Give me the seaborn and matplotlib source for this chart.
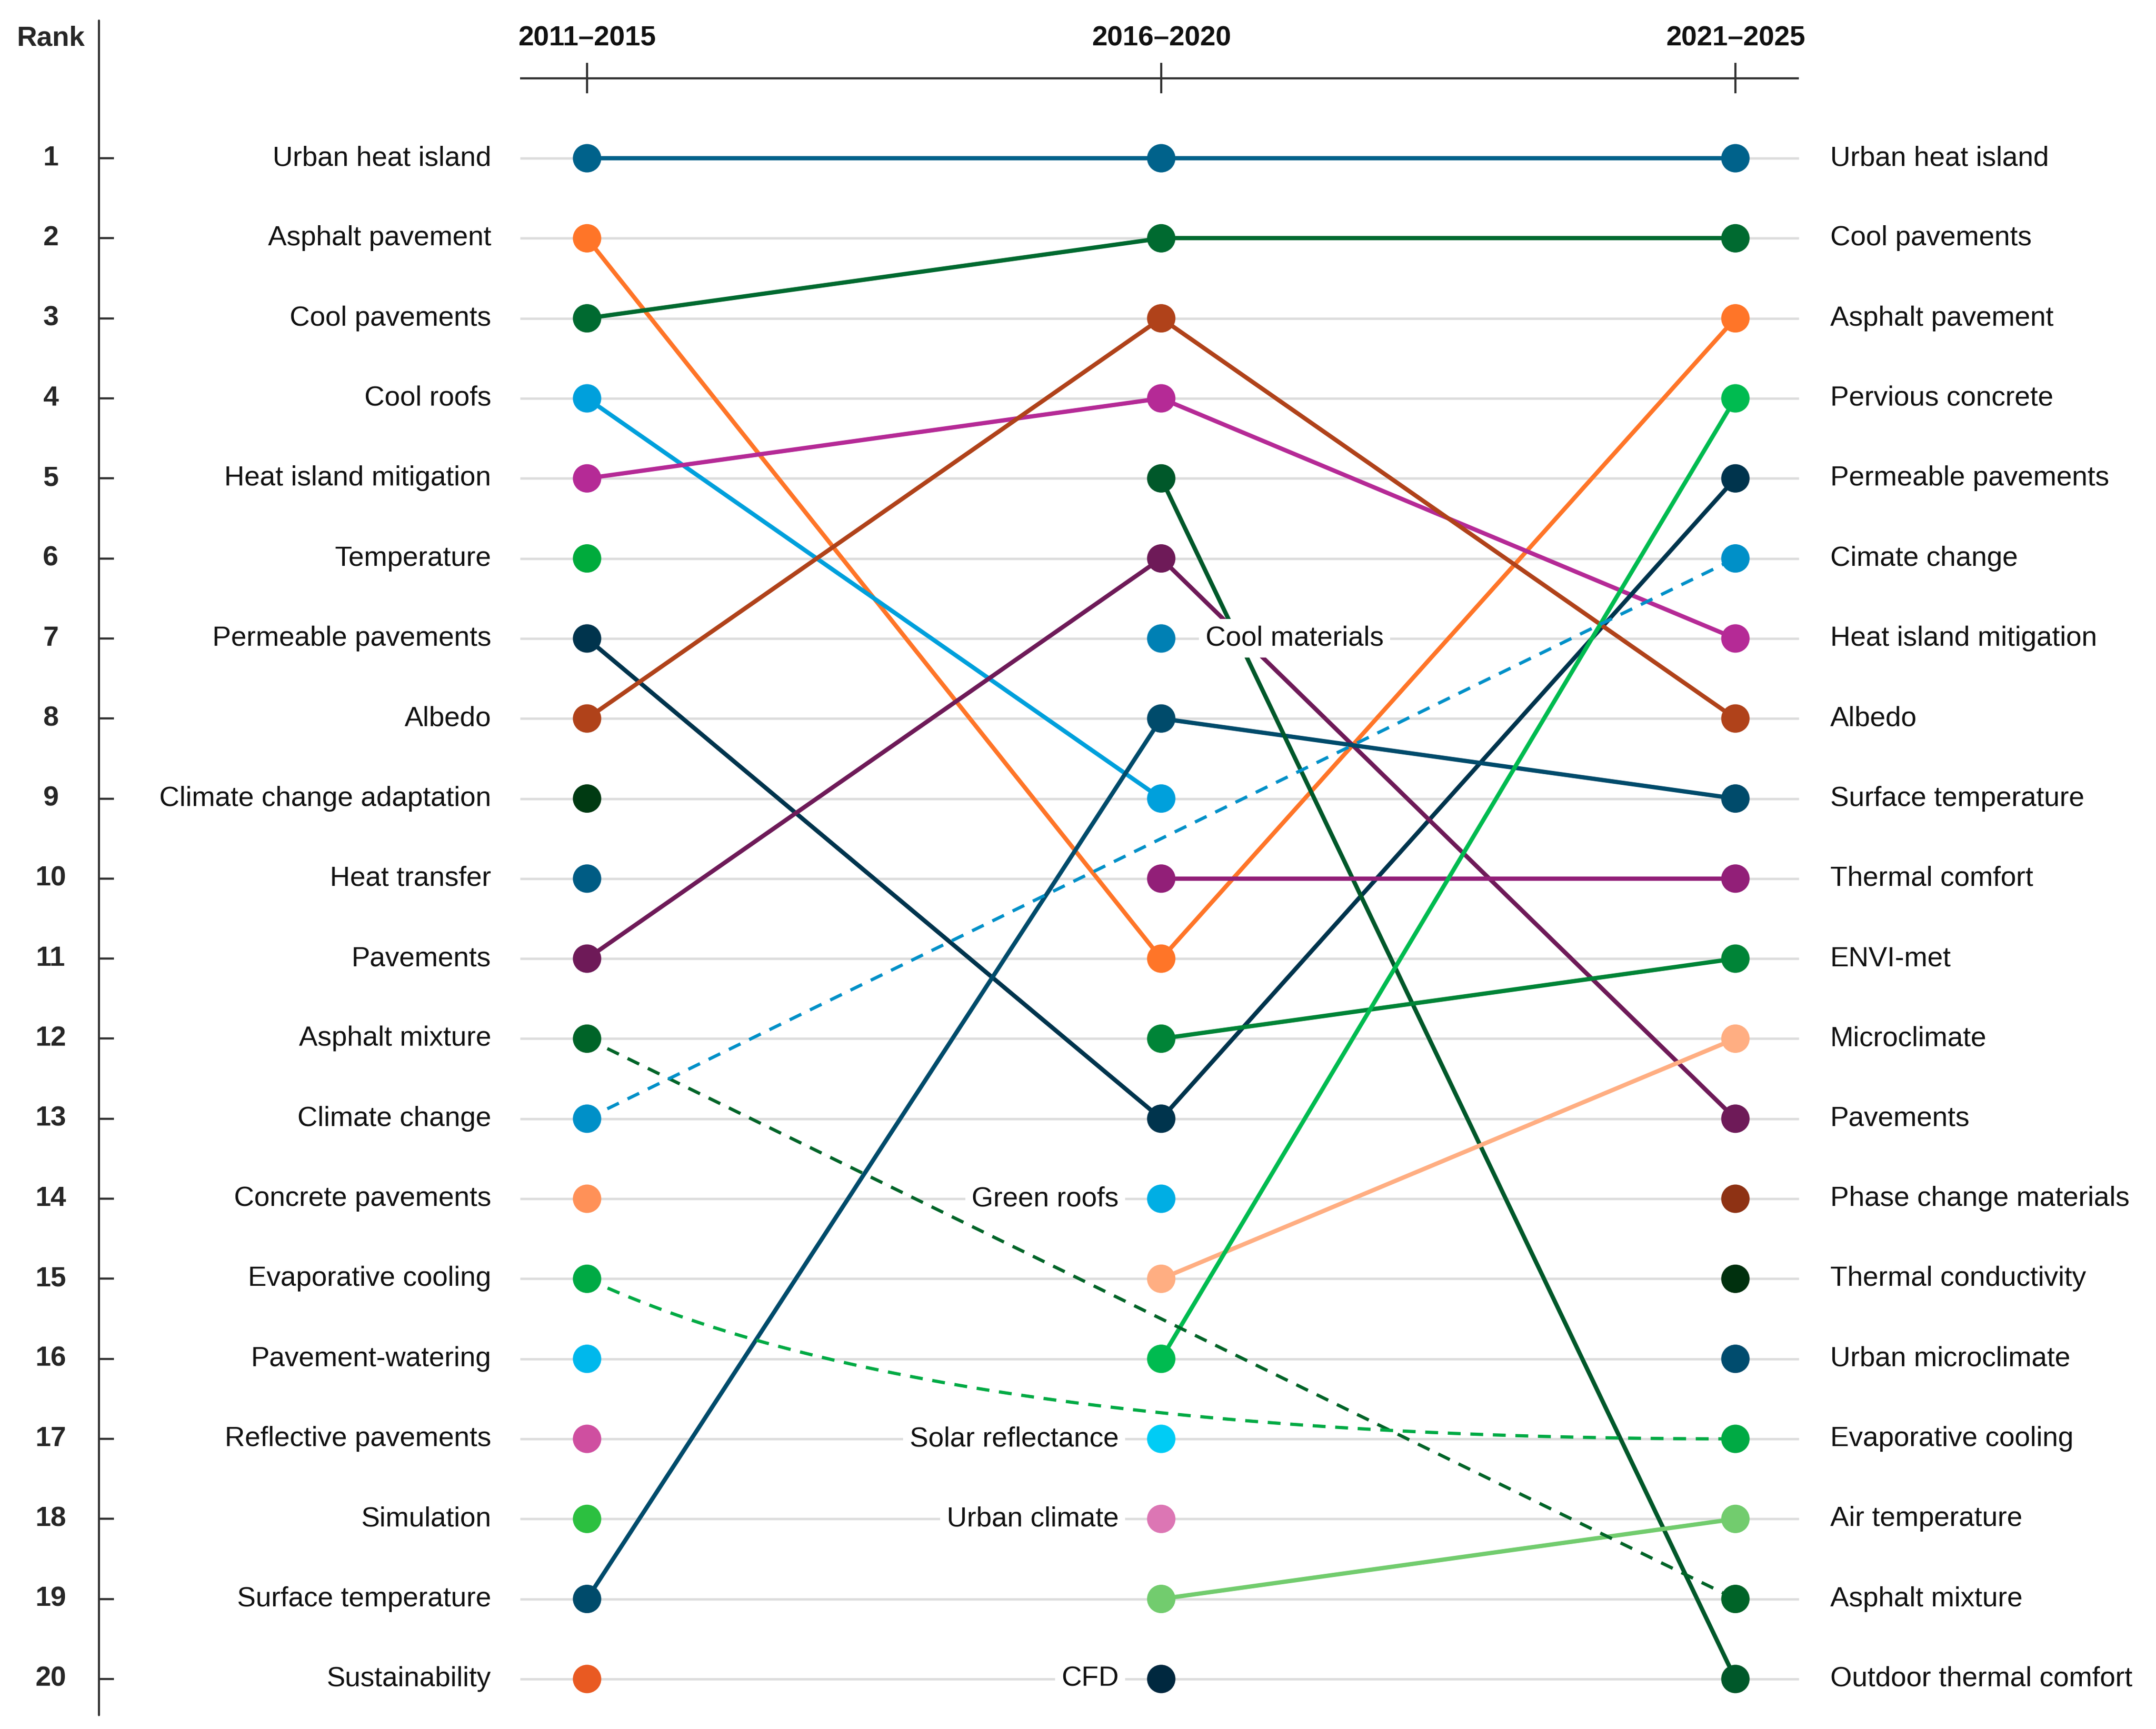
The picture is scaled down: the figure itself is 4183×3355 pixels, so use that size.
import numpy as np
import pandas as pd
import matplotlib
matplotlib.use("Agg")
import matplotlib.pyplot as plt
import seaborn as sns

# ---------------- data ----------------
periods = ["2011–2015", "2016–2020", "2021–2025"]
ranks = list(range(1, 21))

kw_2011_2015 = [
    "Urban heat island", "Asphalt pavement", "Cool pavements", "Cool roofs",
    "Heat island mitigation", "Temperature", "Permeable pavements", "Albedo",
    "Climate change adaptation", "Heat transfer", "Pavements", "Asphalt mixture",
    "Climate change", "Concrete pavements", "Evaporative cooling",
    "Pavement-watering", "Reflective pavements", "Simulation",
    "Surface temperature", "Sustainability",
]
kw_2016_2020 = [
    "Urban heat island", "Cool pavements", "Albedo", "Heat island mitigation",
    "Outdoor thermal comfort", "Pavements", "Cool materials", "Surface temperature",
    "Cool roofs", "Thermal comfort", "Asphalt pavement", "ENVI-met",
    "Permeable pavements", "Green roofs", "Microclimate", "Pervious concrete",
    "Solar reflectance", "Urban climate", "Air temperature", "CFD",
]
kw_2021_2025 = [
    "Urban heat island", "Cool pavements", "Asphalt pavement", "Pervious concrete",
    "Permeable pavements", "Cimate change", "Heat island mitigation", "Albedo",
    "Surface temperature", "Thermal comfort", "ENVI-met", "Microclimate",
    "Pavements", "Phase change materials", "Thermal conductivity",
    "Urban microclimate", "Evaporative cooling", "Air temperature",
    "Asphalt mixture", "Outdoor thermal comfort",
]
# same keyword spelled differently in the source
aliases = {"Cimate change": "Climate change"}

# ---------------- styles ----------------
palette = {
    "Urban heat island": "#00628B", "Asphalt pavement": "#FF7528",
    "Cool pavements": "#006A30", "Cool roofs": "#00A0DC",
    "Heat island mitigation": "#B52A96", "Temperature": "#00AB3C",
    "Permeable pavements": "#00344D", "Albedo": "#B0421A",
    "Climate change adaptation": "#003A12", "Heat transfer": "#005C84",
    "Pavements": "#6E1A58", "Asphalt mixture": "#006428",
    "Climate change": "#0090C8", "Concrete pavements": "#FF9158",
    "Evaporative cooling": "#00AA44", "Pavement-watering": "#00B8EC",
    "Reflective pavements": "#CF4FA0", "Simulation": "#2CC040",
    "Surface temperature": "#004B6B", "Sustainability": "#E95A22",
    "Outdoor thermal comfort": "#00582A", "Cool materials": "#0080B4",
    "Thermal comfort": "#921F78", "ENVI-met": "#008437",
    "Green roofs": "#00AEE4", "Microclimate": "#FFAE82",
    "Pervious concrete": "#00BB50", "Solar reflectance": "#00CCF5",
    "Urban climate": "#DC76B4", "Air temperature": "#72CC6E",
    "CFD": "#00283F", "Phase change materials": "#8E3214",
    "Thermal conductivity": "#00300E", "Urban microclimate": "#004C6E",
}
curved_links = {"Evaporative cooling": 0.3}   # bezier control fraction
mid_label_right = {"Cool materials"}

plt.rcParams["font.family"] = ["Liberation Sans", "DejaVu Sans"]
sns.set_style("white")
plt.rcParams["font.family"] = ["Liberation Sans", "DejaVu Sans"]

cols = [kw_2011_2015, kw_2016_2020, kw_2021_2025]
key = lambda k: aliases.get(k, k)

# points table
rows = []
for ci, lst in enumerate(cols):
    for r, k in zip(ranks, lst):
        rows.append({"keyword": key(k), "label": k, "x": ci, "rank": r})
pts = pd.DataFrame(rows)

rank_of = [{key(k): r for r, k in zip(ranks, lst)} for lst in cols]

# solid segments between consecutive periods
seg_rows = []
sid = 0
for ci in range(2):
    for k, r0 in rank_of[ci].items():
        if k in rank_of[ci + 1]:
            seg_rows.append({"seg": sid, "keyword": k, "x": ci, "rank": r0})
            seg_rows.append({"seg": sid, "keyword": k, "x": ci + 1, "rank": rank_of[ci + 1][k]})
            sid += 1
segs = pd.DataFrame(seg_rows)

# dashed links (first -> last, skipping middle)
dashed = [k for k in rank_of[0] if k in rank_of[2] and k not in rank_of[1]]

# ---------------- figure ----------------
W, H, DPI = 4183, 3355, 300
fig = plt.figure(figsize=(W / DPI, H / DPI), dpi=DPI)
ax = fig.add_axes([0, 0, 1, 1])
ax.set_xlim(-1.0224, 2.7325)
ax.set_ylim(20.625, -0.977)
ax.axis("off")

gx0, gx1 = -0.117, 2.110
ax.hlines(ranks, gx0, gx1, color="#dcdcdc", lw=1.1, zorder=1)

# top period axis
ax.plot([gx0, gx1], [0, 0], color="#333333", lw=1.0, zorder=1, solid_capstyle="butt")
ax.vlines(range(3), -0.19, 0.19, color="#333333", lw=1.0, zorder=1)
for ci, p in enumerate(periods):
    ax.text(ci, -0.5, p, ha="center", va="center", fontsize=13, fontweight="bold",
            color="#111111")

# rank axis
ax.plot([-0.850, -0.850], [-0.72, 20.45], color="#333333", lw=1.0, zorder=1)
ax.hlines(ranks, -0.850, -0.824, color="#333333", lw=1.0)
ax.text(-0.934, -0.5, "Rank", ha="center", va="center", fontsize=13, fontweight="bold")
for r in ranks:
    ax.text(-0.934, r, str(r), ha="center", va="center", fontsize=13, fontweight="bold")

# solid lines via seaborn
sns.lineplot(data=segs, x="x", y="rank", hue="keyword", units="seg", estimator=None,
             palette={k: palette[k] for k in segs["keyword"].unique()},
             lw=2.0, legend=False, sort=False, ax=ax, zorder=2)

# dashed links
for k in dashed:
    y0, y1 = rank_of[0][k], rank_of[2][k]
    if k in curved_links:
        c = curved_links[k]
        t = np.linspace(0, 1, 200)
        xs = 2 * t * (1 - t) * (2 * c) + t ** 2 * 2
        ys = (1 - t) ** 2 * y0 + 2 * t * (1 - t) * y1 + t ** 2 * y1
    else:
        xs, ys = np.array([0, 2]), np.array([y0, y1])
    ax.plot(xs, ys, color=palette[k], lw=1.5, ls=(0, (4, 3)), zorder=2)

# dots via seaborn
sns.scatterplot(data=pts, x="x", y="rank", hue="keyword",
                palette={k: palette[k] for k in pts["keyword"].unique()},
                s=175, edgecolor="none", linewidth=0, legend=False, ax=ax, zorder=4)
ax.set_xlabel("")
ax.set_ylabel("")
ax.set_xlim(-1.0224, 2.7325)
ax.set_ylim(20.625, -0.977)

# labels
for r, k in zip(ranks, kw_2011_2015):
    ax.text(-0.167, r, k, ha="right", va="center", fontsize=13, color="#111111")
for r, k in zip(ranks, kw_2021_2025):
    ax.text(2.165, r, k, ha="left", va="center", fontsize=13, color="#111111")
for r, k in zip(ranks, kw_2016_2020):
    kk = key(k)
    if kk in rank_of[0] or kk in rank_of[2]:
        continue
    if k in mid_label_right:
        ax.text(1.077, r, k, ha="left", va="center", fontsize=13, color="#111111",
                zorder=3, bbox=dict(facecolor="white", edgecolor="none", pad=3))
    else:
        ax.text(0.926, r, k, ha="right", va="center", fontsize=13, color="#111111",
                zorder=3, bbox=dict(facecolor="white", edgecolor="none", pad=3))

fig.savefig("out.png", dpi=DPI, facecolor="white")
